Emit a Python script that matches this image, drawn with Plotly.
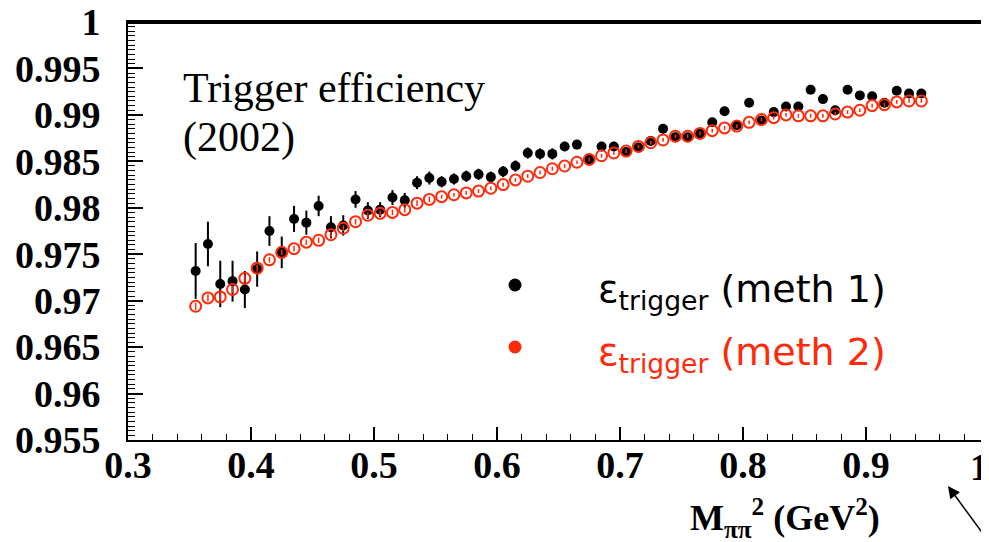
import plotly.graph_objects as go

# ---- data ----
mpipi2 = [0.355, 0.365, 0.375, 0.385, 0.395, 0.405, 0.415, 0.425, 0.435, 0.445,
          0.455, 0.465, 0.475, 0.485, 0.495, 0.505, 0.515, 0.525, 0.535, 0.545,
          0.555, 0.565, 0.575, 0.585, 0.595, 0.605, 0.615, 0.625, 0.635, 0.645,
          0.655, 0.665, 0.675, 0.685, 0.695, 0.705, 0.715, 0.725, 0.735, 0.745,
          0.755, 0.765, 0.775, 0.785, 0.795, 0.805, 0.815, 0.825, 0.835, 0.845,
          0.855, 0.865, 0.875, 0.885, 0.895, 0.905, 0.915, 0.925, 0.935, 0.945]

eff_meth1 = [0.9732, 0.9761, 0.9718, 0.9721, 0.9712, 0.9734, 0.9775, 0.9752, 0.9788, 0.9784,
             0.9802, 0.9779, 0.9781, 0.9809, 0.9797, 0.9798, 0.9811, 0.9808, 0.9827, 0.9832,
             0.9828, 0.9831, 0.9834, 0.9836, 0.9833, 0.9839, 0.9845, 0.9859, 0.9858, 0.9858,
             0.9866, 0.9868, 0.9852, 0.9866, 0.9866, 0.9860, 0.9865, 0.9872, 0.9885, 0.9876,
             0.9876, 0.9880, 0.9892, 0.9904, 0.9889, 0.9913, 0.9894, 0.9903, 0.9909, 0.9909,
             0.9927, 0.9917, 0.9905, 0.9927, 0.9921, 0.9920, 0.9913, 0.9926, 0.9923, 0.9923]

err_meth1 = [0.0030, 0.0024, 0.0025, 0.0022, 0.0020, 0.0019, 0.0016, 0.0017, 0.0014, 0.0013,
             0.0011, 0.0012, 0.0011, 0.0009, 0.0009, 0.0008, 0.0008, 0.0008, 0.0007, 0.0007,
             0.0006, 0.0006, 0.0006, 0.0006, 0.0006, 0.0006, 0.0006, 0.0006, 0.0006, 0.0006,
             0.0005, 0.0005, 0.0005, 0.0005, 0.0005, 0.0005, 0.0005, 0.0005, 0.0005, 0.0005,
             0.0004, 0.0004, 0.0004, 0.0004, 0.0004, 0.0004, 0.0004, 0.0004, 0.0004, 0.0004,
             0.0004, 0.0004, 0.0004, 0.0004, 0.0004, 0.0004, 0.0004, 0.0004, 0.0004, 0.0004]

eff_meth2 = [0.9694, 0.9703, 0.9704, 0.9712, 0.9724, 0.9735, 0.9744, 0.9752, 0.9756, 0.9763,
             0.9765, 0.9771, 0.9778, 0.9785, 0.9792, 0.9794, 0.9795, 0.9798, 0.9805, 0.9809,
             0.9812, 0.9814, 0.9816, 0.9818, 0.9821, 0.9825, 0.9830, 0.9834, 0.9838, 0.9842,
             0.9845, 0.9849, 0.9852, 0.9856, 0.9859, 0.9861, 0.9866, 0.9870, 0.9873, 0.9877,
             0.9877, 0.9880, 0.9883, 0.9886, 0.9888, 0.9892, 0.9895, 0.9897, 0.9900, 0.9899,
             0.9899, 0.9899, 0.9901, 0.9903, 0.9905, 0.9910, 0.9911, 0.9914, 0.9915, 0.9915]

err_meth2 = [0.0004, 0.0004, 0.0004, 0.0004, 0.0004, 0.0004, 0.0003, 0.0003, 0.0003, 0.0003,
             0.0003, 0.0003, 0.0003, 0.0003, 0.0003, 0.0003, 0.0003, 0.0003, 0.0003, 0.0003,
             0.0002, 0.0002, 0.0002, 0.0002, 0.0002, 0.0002, 0.0002, 0.0002, 0.0002, 0.0002,
             0.0002, 0.0002, 0.0002, 0.0002, 0.0002, 0.0002, 0.0002, 0.0002, 0.0002, 0.0002,
             0.0002, 0.0002, 0.0002, 0.0002, 0.0002, 0.0002, 0.0002, 0.0002, 0.0002, 0.0002,
             0.0002, 0.0002, 0.0002, 0.0002, 0.0002, 0.0002, 0.0002, 0.0002, 0.0002, 0.0002]

x_tickvals = [0.3, 0.4, 0.5, 0.6, 0.7, 0.8, 0.9]
x_ticktext = ["0.3", "0.4", "0.5", "0.6", "0.7", "0.8", "0.9"]
y_tickvals = [0.955, 0.96, 0.965, 0.97, 0.975, 0.98, 0.985, 0.99, 0.995, 1.0]
y_ticktext = ["0.955", "0.96", "0.965", "0.97", "0.975", "0.98", "0.985", "0.99", "0.995", "1"]

RED = "#ff2a0a"
SERIF = "Liberation Serif"
SANS = "DejaVu Sans"

# the page body adds an 8px margin; lay out the figure so that, in the
# 989x542 window, the frame sits where the reference frame sits
OFF = 8
W, H = 989 - OFF, 542 - OFF
ML, MR, MT, MB = 128 - OFF, 0, 22 - OFF, 542 - 440
PW, PH = W - ML - MR, H - MT - MB


def px_x(p):
    """window pixel x -> paper fraction"""
    return (p - OFF - ML) / PW


def px_y(p):
    """window pixel y -> paper fraction"""
    return (MT + PH - (p - OFF)) / PH


fig = go.Figure()

fig.add_trace(go.Scatter(
    x=mpipi2, y=eff_meth1, mode="markers", name="meth 1",
    marker=dict(symbol="circle", size=10, color="black"),
    error_y=dict(type="data", array=err_meth1, visible=True,
                 thickness=2, width=0, color="black"),
    showlegend=False,
))

fig.add_trace(go.Scatter(
    x=mpipi2, y=eff_meth2, mode="markers", name="meth 2",
    marker=dict(symbol="circle-open", size=11, color=RED, line=dict(width=2)),
    error_y=dict(type="data", array=err_meth2, visible=True,
                 thickness=1.5, width=0, color=RED),
    showlegend=False,
))

axis_common = dict(
    automargin=False,
    showgrid=False, zeroline=False,
    showline=True, mirror=True, linecolor="black", linewidth=2,
    ticks="inside", tickcolor="black", tickwidth=1.5,
    ticklabeloverflow="allow",
    tickfont=dict(family=SERIF, size=38, color="black", weight="bold"),
)

fig.update_xaxes(
    range=[0.3, 1.0], tickmode="array", tickvals=x_tickvals, ticktext=x_ticktext,
    ticklen=13, ticklabelstandoff=-10,
    minor=dict(ticks="inside", dtick=0.02, ticklen=6, tickcolor="black", tickwidth=1.2),
    **axis_common,
)
fig.update_yaxes(
    range=[0.955, 1.0], tickmode="array", tickvals=y_tickvals, ticktext=y_ticktext,
    ticklen=15, ticklabelstandoff=18,
    minor=dict(ticks="inside", dtick=0.0005, ticklen=7, tickcolor="black", tickwidth=1.2),
    **axis_common,
)

annotations = [
    # x tick label "1" at the clipped right edge
    dict(text="1", x=px_x(979), y=px_y(467), xref="paper", yref="paper",
         xanchor="center", yanchor="middle", showarrow=False,
         font=dict(family=SERIF, size=38, color="black", weight="bold")),
    # title text
    dict(text="Trigger efficiency", x=px_x(181), y=px_y(88), xref="paper", yref="paper",
         xanchor="left", yanchor="middle", showarrow=False,
         font=dict(family=SERIF, size=42, color="black")),
    dict(text="(2002)", x=px_x(181), y=px_y(137), xref="paper", yref="paper",
         xanchor="left", yanchor="middle", showarrow=False,
         font=dict(family=SERIF, size=42, color="black")),
    # legend texts
    dict(text="ε<sub>trigger</sub> (meth 1)", x=px_x(596), y=px_y(292), xref="paper", yref="paper",
         xanchor="left", yanchor="middle", showarrow=False,
         font=dict(family=SANS, size=38, color="black")),
    dict(text="ε<sub>trigger</sub> (meth 2)", x=px_x(596), y=px_y(354), xref="paper", yref="paper",
         xanchor="left", yanchor="middle", showarrow=False,
         font=dict(family=SANS, size=38, color=RED)),
    # x axis title
    dict(text="M<sub>ππ</sub><sup>2</sup> (GeV<sup>2</sup>)", x=px_x(882), y=px_y(518),
         xref="paper", yref="paper", xanchor="right", yanchor="middle", showarrow=False,
         font=dict(family=SERIF, size=36, color="black", weight="bold")),
    # arrow at lower right
    dict(text="", x=px_x(948), y=px_y(486), xref="paper", yref="paper",
         ax=48, ay=58, showarrow=True, arrowhead=2, arrowsize=1.6,
         arrowwidth=1.5, arrowcolor="black"),
]

shapes = [
    dict(type="circle", xref="paper", yref="paper", xsizemode="pixel", ysizemode="pixel",
         xanchor=px_x(515), yanchor=px_y(285), x0=-6.5, x1=6.5, y0=-6.5, y1=6.5,
         fillcolor="black", line=dict(width=0)),
    dict(type="circle", xref="paper", yref="paper", xsizemode="pixel", ysizemode="pixel",
         xanchor=px_x(515), yanchor=px_y(347), x0=-6.5, x1=6.5, y0=-6.5, y1=6.5,
         fillcolor=RED, line=dict(width=0)),
    # top frame edge, drawn explicitly just inside the plot area
    dict(type="line", xref="paper", yref="paper", x0=0, x1=1, y0=px_y(23), y1=px_y(23),
         layer="above", line=dict(color="black", width=2)),
]

fig.update_layout(
    width=W, height=H,
    margin=dict(l=ML, r=MR, t=MT, b=MB, pad=0, autoexpand=False),
    paper_bgcolor="white", plot_bgcolor="white",
    annotations=annotations, shapes=shapes,
    showlegend=False,
)

fig.write_html("out.html")
